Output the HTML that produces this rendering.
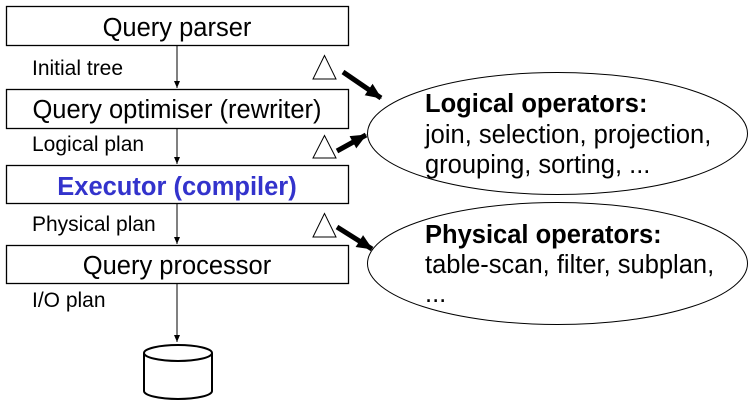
<!DOCTYPE html>
<html><head><meta charset="utf-8"><style>
html,body{margin:0;padding:0;background:#fff;}
svg{display:block;font-family:"Liberation Sans",Arial,sans-serif;}
</style></head><body>
<svg width="752" height="406" viewBox="0 0 752 406" xmlns="http://www.w3.org/2000/svg">
<defs>
<marker id="a" markerWidth="8" markerHeight="8" refX="7" refY="4" orient="auto" markerUnits="userSpaceOnUse"><path d="M0,1 L7,4 L0,7 Z" fill="#000"/></marker>
<marker id="b" markerWidth="18" markerHeight="18" refX="15" refY="9" orient="auto" markerUnits="userSpaceOnUse"><path d="M0,2 L16,9 L0,16 Z" fill="#000"/></marker>
</defs>
<g fill="#fff" stroke="#000" stroke-width="1.3">
<rect x="6.5" y="6.5" width="342" height="39"/>
<rect x="6.5" y="89.5" width="342" height="39"/>
<rect x="6.5" y="165.5" width="342" height="38"/>
<rect x="6.5" y="245.5" width="342" height="38"/>
</g>
<g stroke="#000" stroke-width="1">
<line x1="177" y1="46" x2="177" y2="88" marker-end="url(#a)"/>
<line x1="177" y1="129" x2="177" y2="164" marker-end="url(#a)"/>
<line x1="177" y1="204" x2="177" y2="244" marker-end="url(#a)"/>
<line x1="177" y1="284" x2="177" y2="342" marker-end="url(#a)"/>
</g>
<g font-size="25.5" text-anchor="middle">
<text x="177" y="36">Query parser</text>
<text x="177" y="118">Query optimiser (rewriter)</text>
<text x="177" y="195" fill="#3333cc" font-weight="bold">Executor (compiler)</text>
<text x="177" y="274">Query processor</text>
</g>
<g font-size="21">
<text x="32" y="75">Initial tree</text>
<text x="32" y="151">Logical plan</text>
<text x="32" y="231">Physical plan</text>
<text x="32" y="307">I/O plan</text>
</g>
<g fill="#fff" stroke="#000" stroke-width="2">
<path d="M144,353 L144,391 A34,8 0 0 0 212,391 L212,353"/>
<ellipse cx="178" cy="353" rx="34" ry="8"/>
</g>
<g fill="#fff" stroke="#000" stroke-width="1">
<polygon points="324.5,55.5 313,79 336,79"/>
<polygon points="324.5,135.5 313,158 336,158"/>
<polygon points="324.5,213.5 313,237 336,237"/>
<ellipse cx="557.5" cy="133.5" rx="190" ry="61"/>
<ellipse cx="557.5" cy="263.5" rx="190" ry="61"/>
</g>
<g stroke="#000" stroke-width="5">
<line x1="343" y1="72" x2="381" y2="98" marker-end="url(#b)"/>
<line x1="337" y1="151" x2="366" y2="135" marker-end="url(#b)"/>
<line x1="337" y1="227" x2="372" y2="249" marker-end="url(#b)"/>
</g>
<g font-size="25.5">
<text x="425" y="112" font-weight="bold">Logical operators:</text>
<text x="425" y="143">join, selection, projection,</text>
<text x="425" y="173">grouping, sorting, ...</text>
<text x="425" y="243" font-weight="bold">Physical operators:</text>
<text x="425" y="273">table-scan, filter, subplan,</text>
<text x="425" y="302">...</text>
</g>
</svg>
</body></html>
